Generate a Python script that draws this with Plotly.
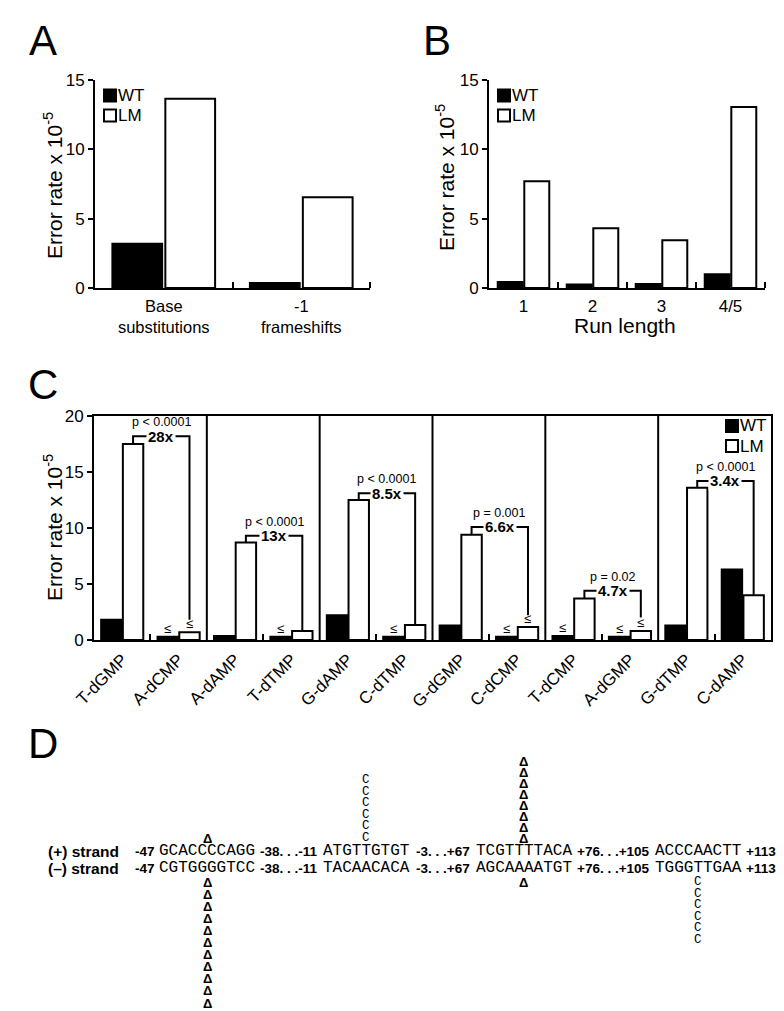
import plotly.graph_objects as go

W, H = 784, 1011

# ---------------- data ----------------
a_categories = ["Base<br>substitutions", "-1<br>frameshifts"]
a_wt = [3.2, 0.36]
a_lm = [13.65, 6.55]

b_categories = ["1", "2", "3", "4/5"]
b_wt = [0.43, 0.25, 0.28, 1.0]
b_lm = [7.7, 4.3, 3.45, 13.05]

c_categories = ["T-dGMP", "A-dCMP", "A-dAMP", "T-dTMP", "G-dAMP", "C-dTMP",
                "G-dGMP", "C-dCMP", "T-dCMP", "A-dGMP", "G-dTMP", "C-dAMP"]
c_wt = [1.8, 0.3, 0.35, 0.3, 2.2, 0.3, 1.3, 0.3, 0.35, 0.3, 1.3, 6.3]
c_lm = [17.5, 0.7, 8.7, 0.8, 12.5, 1.35, 9.4, 1.15, 3.7, 0.8, 13.6, 4.0]
c_wt_upper = [False, True, False, True, False, True, False, True, True, True, False, False]
c_lm_upper = [False, True, False, False, False, False, False, True, False, True, False, False]
c_fold = ["28x", "13x", "8.5x", "6.6x", "4.7x", "3.4x"]
c_pvalue = ["p < 0.0001", "p < 0.0001", "p < 0.0001", "p = 0.001", "p = 0.02", "p < 0.0001"]
c_bracket_top = [18.2, 9.3, 13.1, 10.1, 4.4, 14.2]
c_bracket_end = [1.8, 0.8, 1.35, 2.2, 2.0, 4.0]

series_names = ["WT", "LM"]

d_strands = ["(+) strand", "(\u2013) strand"]
d_start = ["-47", "-47"]
d_seq_plus = ["GCACCCCAGG", "ATGTTGTGT", "TCGTTTTACA", "ACCCAACTT"]
d_seq_minus = ["CGTGGGGTCC", "TACAACACA", "AGCAAAATGT", "TGGGTTGAA"]
d_gaps = ["-38. . .-11", "-3. . .+67", "+76. . .+105"]
d_end = ["+113", "+113"]
# mutation marks: (strand, sequence block, character column, glyph, count)
d_marks = [
    ("+", 0, 4.5, "\u0394", 1),
    ("+", 1, 4, "C", 6),
    ("+", 2, 4.4, "\u0394", 8),
    ("-", 0, 4.5, "\u0394", 11),
    ("-", 2, 4.4, "\u0394", 1),
    ("-", 3, 4, "C", 6),
]

# ---------------- styles / layout ----------------
SANS = "Liberation Sans, Arial, Helvetica, sans-serif"
MONO = "Liberation Mono, Courier New, monospace"
BAR_GAP = 0.23
GROUP_GAP = 0.06
OFF = (1 - BAR_GAP) / 4
FILLS = ["black", "white"]


def fx(p):
    return p / W


def fy(p):
    return 1 - p / H


fig = go.Figure()

panels = [
    ("x", "y", a_categories, a_wt, a_lm),
    ("x2", "y2", b_categories, b_wt, b_lm),
    ("x3", "y3", c_categories, c_wt, c_lm),
]
for xa, ya, cats, wt, lm in panels:
    idx = list(range(len(cats)))
    for name, vals, fill in zip(series_names, (wt, lm), FILLS):
        fig.add_trace(go.Bar(x=idx, y=vals, name=name, xaxis=xa, yaxis=ya, showlegend=False,
                             marker=dict(color=fill, line=dict(color="black", width=2)),
                             hoverinfo="skip"))

annotations = []
shapes = []

# significance brackets in panel C (drawn in data coordinates of x3/y3)
for s in range(len(c_fold)):
    i0, i1 = 2 * s, 2 * s + 1
    xl, xr = i0 + OFF, i1 + OFF
    top = c_bracket_top[s]
    shapes.append(dict(type="path", xref="x3", yref="y3",
                       path="M %f,%f L %f,%f L %f,%f L %f,%f" % (xl, c_lm[i0], xl, top, xr, top,
                                                                 xr, c_bracket_end[s]),
                       line=dict(color="black", width=2)))
    xm = (xl + xr) / 2
    annotations.append(dict(x=xm, y=top, xref="x3", yref="y3", text="<b>%s</b>" % c_fold[s],
                            showarrow=False, font=dict(size=15, family=SANS, color="black"),
                            bgcolor="white", borderpad=1, xanchor="center", yanchor="middle"))
    annotations.append(dict(x=xm, y=top, xref="x3", yref="y3", text=c_pvalue[s], yshift=14,
                            showarrow=False, font=dict(size=12.5, family=SANS, color="black"),
                            xanchor="center", yanchor="middle"))

for i in range(len(c_categories)):
    for flag, val, sgn in ((c_wt_upper[i], c_wt[i], -1), (c_lm_upper[i], c_lm[i], 1)):
        if flag:
            annotations.append(dict(x=i + sgn * OFF, y=val, xref="x3", yref="y3", text="\u2264",
                                    showarrow=False, yanchor="bottom", xanchor="center", yshift=-1,
                                    font=dict(size=13, family=SANS, color="black")))

# legends (keys + labels)
legend_pos = [(96, 87.5), (490, 87.5), (718, 418)]
for lx, ly in legend_pos:
    for k, (name, fill) in enumerate(zip(series_names, FILLS)):
        cy = ly + 20 * k
        shapes.append(dict(type="rect", xref="paper", yref="paper",
                           x0=fx(lx), x1=fx(lx + 12), y0=fy(cy + 6), y1=fy(cy - 6),
                           fillcolor=fill, line=dict(color="black", width=2)))
        annotations.append(dict(x=fx(lx + 14), y=fy(cy), xref="paper", yref="paper", text=name,
                                showarrow=False, xanchor="left", yanchor="middle",
                                borderpad=0, borderwidth=0,
                                font=dict(size=17, family=SANS, color="black")))

# panel letters
for letter, xp, yp in (("A", 20, 32), ("B", 414, 32), ("C", 19, 376), ("D", 19, 735)):
    annotations.append(dict(x=fx(xp), y=fy(yp), xref="paper", yref="paper", text=letter,
                            showarrow=False, xanchor="left", yanchor="middle", borderpad=0,
                            font=dict(size=42, family=SANS, color="black")))

# axis titles
ytitle = "Error rate x 10<sup>-5</sup>"
for xp, yp in ((45, 178), (437, 170), (45, 520)):
    annotations.append(dict(x=fx(xp), y=fy(yp), xref="paper", yref="paper", text=ytitle,
                            textangle=-90, showarrow=False, xanchor="center", yanchor="middle",
                            font=dict(size=21, family=SANS, color="black")))
annotations.append(dict(x=fx(617), y=fy(317), xref="paper", yref="paper", text="Run length",
                        showarrow=False, xanchor="center", yanchor="middle",
                        font=dict(size=21, family=SANS, color="black")))

# panel D: sequence diagram
MONO_SIZE = 16
CW = 0.6 * MONO_SIZE
seq_left = [151, 315, 468, 647]
row_y = {"+": 843, "-": 860}


def dtext(x, y, text, size, family, anchor):
    annotations.append(dict(x=fx(x), y=fy(y), xref="paper", yref="paper", text=text,
                            showarrow=False, xanchor=anchor, yanchor="middle",
                            borderpad=0, borderwidth=0,
                            font=dict(size=size, family=family, color="black")))


for r, (strand, seqs) in enumerate((("+", d_seq_plus), ("-", d_seq_minus))):
    y = row_y[strand]
    dtext(40, y, "<b>%s</b>" % d_strands[r], 15.5, SANS, "left")
    dtext(seq_left[0] - 4, y, "<b>%s</b>" % d_start[r], 13.5, SANS, "right")
    for k, seq in enumerate(seqs):
        dtext(seq_left[k], y, seq, MONO_SIZE, MONO, "left")
    for k, g in enumerate(d_gaps):
        end_prev = seq_left[k] + CW * len(seqs[k])
        dtext((end_prev + seq_left[k + 1]) / 2, y, "<b>%s</b>" % g, 13.5, SANS, "center")
    dtext(seq_left[3] + CW * len(seqs[3]) + 5, y, "<b>%s</b>" % d_end[r], 13.5, SANS, "left")

for strand, blk, col, glyph, count in d_marks:
    xc = seq_left[blk] + (col + 0.5) * CW
    is_c = glyph == "C"
    step = 11.6 if is_c else (11.0 if strand == "+" else 12.1)
    for n in range(count):
        if strand == "+":
            yc = row_y["+"] - 13 - n * step
        else:
            yc = row_y["-"] + 14 + n * step
        annotations.append(dict(
            x=fx(xc), y=fy(yc), xref="paper", yref="paper",
            text=glyph if is_c else "<b>%s</b>" % glyph,
            showarrow=False, xanchor="center", yanchor="middle", borderpad=0, borderwidth=0,
            font=dict(size=12.5 if is_c else 13, family=MONO if is_c else SANS, color="black")))

# section separators in panel C
for b in range(1, len(c_fold)):
    shapes.append(dict(type="line", xref="x3", yref="y3 domain", x0=2 * b - 0.5, x1=2 * b - 0.5,
                       y0=0, y1=1, line=dict(color="black", width=2)))

yax = dict(showline=True, linewidth=2, linecolor="black", ticks="outside", ticklen=5,
           tickwidth=2, tickcolor="black", showgrid=False, zeroline=False, automargin=False,
           tickfont=dict(size=17, family=SANS, color="black"))


def xax(n, dom, mirror=False, angle=0):
    return dict(domain=dom, range=[-0.5, n - 0.5], tickvals=list(range(n)), showline=True,
                linewidth=2, linecolor="black", ticks="", showgrid=False, zeroline=False,
                automargin=False, mirror=mirror, tickangle=angle, ticklabelstandoff=2,
                tickfont=dict(size=17, family=SANS, color="black"))


xa = xax(2, [fx(87), fx(362)])
xa.update(ticktext=a_categories, anchor="y", tickfont=dict(size=16.5, family=SANS, color="black"),
          minor=dict(tickvals=[i + 0.5 for i in range(2)], ticks="inside", ticklen=6,
                     tickwidth=2, tickcolor="black"))
xb = xax(4, [fx(481), fx(757)])
xb.update(ticktext=b_categories, anchor="y2",
          minor=dict(tickvals=[i + 0.5 for i in range(4)], ticks="inside", ticklen=6,
                     tickwidth=2, tickcolor="black"))
xc_ = xax(12, [fx(86), fx(763)], mirror=True, angle=-45)
xc_.update(ticktext=c_categories, anchor="y3", ticklabelstandoff=1,
           minor=dict(tickvals=[2 * i + 0.5 for i in range(6)], ticks="inside", ticklen=6,
                      tickwidth=2, tickcolor="black"))

fig.update_layout(
    template="none",
    width=W, height=H, autosize=False,
    margin=dict(l=0, r=0, t=0, b=0),
    paper_bgcolor="white", plot_bgcolor="white",
    font=dict(family=SANS, color="black"),
    barmode="group", bargap=BAR_GAP, bargroupgap=GROUP_GAP,
    xaxis=xa,
    yaxis=dict(yax, domain=[fy(280), fy(72)], range=[0, 15], tickvals=[0, 5, 10, 15], anchor="x"),
    xaxis2=xb,
    yaxis2=dict(yax, domain=[fy(280), fy(72)], range=[0, 15], tickvals=[0, 5, 10, 15], anchor="x2"),
    xaxis3=xc_,
    yaxis3=dict(yax, domain=[fy(632), fy(408)], range=[0, 20], tickvals=[0, 5, 10, 15, 20],
                anchor="x3", mirror=True),
    annotations=annotations,
    shapes=shapes,
    showlegend=False,
)

fig.write_html("out.html")
